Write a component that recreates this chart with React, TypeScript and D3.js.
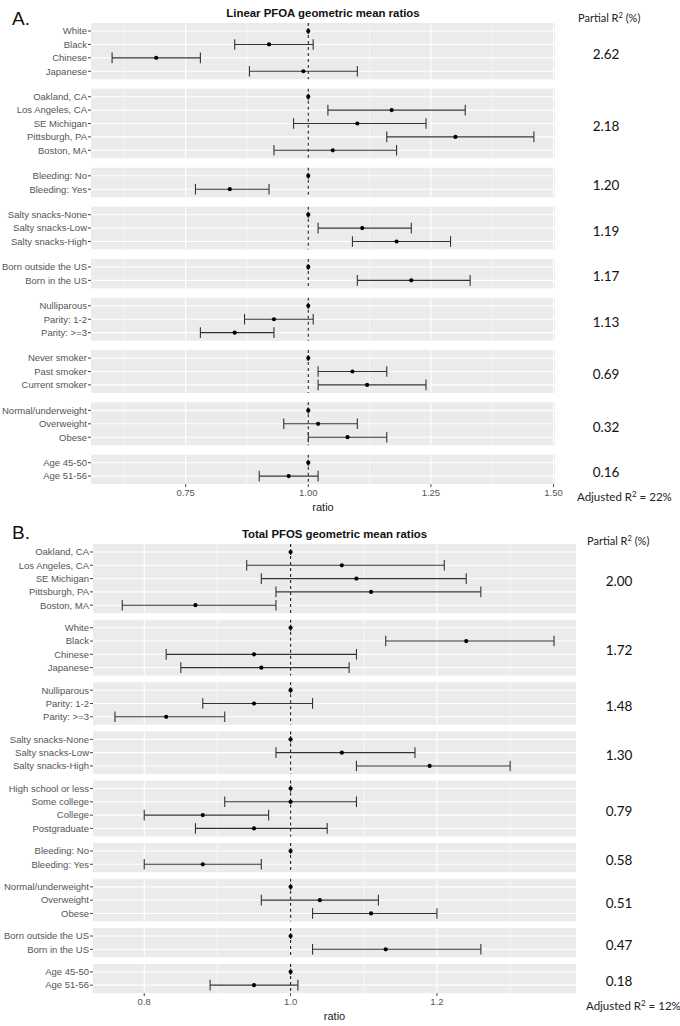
import React from "react";
import * as d3 from "d3";

// ---------- Panel A: Linear PFOA ----------
const pfoaLabels: string[][] = [
  ["White", "Black", "Chinese", "Japanese"],
  ["Oakland, CA", "Los Angeles, CA", "SE Michigan", "Pittsburgh, PA", "Boston, MA"],
  ["Bleeding: No", "Bleeding: Yes"],
  ["Salty snacks-None", "Salty snacks-Low", "Salty snacks-High"],
  ["Born outside the US", "Born in the US"],
  ["Nulliparous", "Parity: 1-2", "Parity: >=3"],
  ["Never smoker", "Past smoker", "Current smoker"],
  ["Normal/underweight", "Overweight", "Obese"],
  ["Age 45-50", "Age 51-56"],
];
const pfoaEst: number[][] = [
  [1, 0.92, 0.69, 0.99],
  [1, 1.17, 1.10, 1.30, 1.05],
  [1, 0.84],
  [1, 1.11, 1.18],
  [1, 1.21],
  [1, 0.93, 0.85],
  [1, 1.09, 1.12],
  [1, 1.02, 1.08],
  [1, 0.96],
];
const pfoaLow: number[][] = [
  [1, 0.85, 0.60, 0.88],
  [1, 1.04, 0.97, 1.16, 0.93],
  [1, 0.77],
  [1, 1.02, 1.09],
  [1, 1.10],
  [1, 0.87, 0.78],
  [1, 1.02, 1.02],
  [1, 0.95, 1.00],
  [1, 0.90],
];
const pfoaHigh: number[][] = [
  [1, 1.01, 0.78, 1.10],
  [1, 1.32, 1.24, 1.46, 1.18],
  [1, 0.92],
  [1, 1.21, 1.29],
  [1, 1.33],
  [1, 1.01, 0.93],
  [1, 1.16, 1.24],
  [1, 1.10, 1.16],
  [1, 1.02],
];
const pfoaR2: string[] = ["2.62", "2.18", "1.20", "1.19", "1.17", "1.13", "0.69", "0.32", "0.16"];
const pfoaTicks: number[] = [0.75, 1.0, 1.25, 1.5];
const pfoaAdj = "22%";

// ---------- Panel B: Total PFOS ----------
const pfosLabels: string[][] = [
  ["Oakland, CA", "Los Angeles, CA", "SE Michigan", "Pittsburgh, PA", "Boston, MA"],
  ["White", "Black", "Chinese", "Japanese"],
  ["Nulliparous", "Parity: 1-2", "Parity: >=3"],
  ["Salty snacks-None", "Salty snacks-Low", "Salty snacks-High"],
  ["High school or less", "Some college", "College", "Postgraduate"],
  ["Bleeding: No", "Bleeding: Yes"],
  ["Normal/underweight", "Overweight", "Obese"],
  ["Born outside the US", "Born in the US"],
  ["Age 45-50", "Age 51-56"],
];
const pfosEst: number[][] = [
  [1, 1.07, 1.09, 1.11, 0.87],
  [1, 1.24, 0.95, 0.96],
  [1, 0.95, 0.83],
  [1, 1.07, 1.19],
  [1, 1.00, 0.88, 0.95],
  [1, 0.88],
  [1, 1.04, 1.11],
  [1, 1.13],
  [1, 0.95],
];
const pfosLow: number[][] = [
  [1, 0.94, 0.96, 0.98, 0.77],
  [1, 1.13, 0.83, 0.85],
  [1, 0.88, 0.76],
  [1, 0.98, 1.09],
  [1, 0.91, 0.80, 0.87],
  [1, 0.80],
  [1, 0.96, 1.03],
  [1, 1.03],
  [1, 0.89],
];
const pfosHigh: number[][] = [
  [1, 1.21, 1.24, 1.26, 0.98],
  [1, 1.36, 1.09, 1.08],
  [1, 1.03, 0.91],
  [1, 1.17, 1.30],
  [1, 1.09, 0.97, 1.05],
  [1, 0.96],
  [1, 1.12, 1.20],
  [1, 1.26],
  [1, 1.01],
];
const pfosR2: string[] = ["2.00", "1.72", "1.48", "1.30", "0.79", "0.58", "0.51", "0.47", "0.18"];
const pfosTicks: number[] = [0.8, 1.0, 1.2];
const pfosAdj = "12%";

const AX = "'Liberation Sans', Arial, sans-serif";
const CAL = "Lato, 'Open Sans', sans-serif";

type PanelProps = {
  letter: string;
  title: string;
  labels: string[][];
  est: number[][];
  low: number[][];
  high: number[][];
  r2: string[];
  ticks: number[];
  fmt: string;
  adj: string;
  x0: number;
  x1: number;
  top: number;
  unit: number;
  gap: number;
  letterY: number;
  titleY: number;
  headY: number;
  r2X: number;
  headX: number;
};

function Panel(p: PanelProps) {
  const all = [...p.low.flat(), ...p.high.flat()];
  const [mn, mx] = d3.extent(all) as [number, number];
  const pad = (mx - mn) * 0.05;
  const x = d3.scaleLinear().domain([mn - pad, mx + pad]).range([p.x0, p.x1]);
  const step = p.ticks[1] - p.ticks[0];
  const minor: number[] = [];
  for (let t = p.ticks[0] - step / 2; t <= mx + pad; t += step) {
    if (t >= mn - pad) minor.push(t);
  }
  const fmt = d3.format(p.fmt);

  let y = p.top;
  const facets = p.labels.map((labs, gi) => {
    const h = (labs.length - 1 + 1.2) * p.unit;
    const f = { top: y, h, gi, labs };
    y += h + p.gap;
    return f;
  });
  const bottom = facets[facets.length - 1].top + facets[facets.length - 1].h;
  const cx = (p.x0 + p.x1) / 2;

  return (
    <g>
      <text x={12} y={p.letterY} fontFamily={AX} fontSize={19} fill="#111">{p.letter}</text>
      <text x={cx} y={p.titleY} textAnchor="middle" fontFamily={AX} fontSize={11.4} fontWeight="bold" fill="#111">{p.title}</text>
      <text x={p.headX} y={p.headY} fontFamily={CAL} fontSize={11} fill="#222">
        Partial R<tspan dy={-4} fontSize={7.5}>2</tspan><tspan dy={4}> (%)</tspan>
      </text>
      {facets.map((f) => {
        const rowY = (i: number) => f.top + (0.6 + i) * p.unit;
        return (
          <g key={f.gi}>
            <rect x={p.x0} y={f.top} width={p.x1 - p.x0} height={f.h} fill="#ebebeb" />
            {minor.map((t) => (
              <line key={"m" + t} x1={x(t)} x2={x(t)} y1={f.top} y2={f.top + f.h} stroke="#fff" strokeWidth={0.6} />
            ))}
            {p.ticks.map((t) => (
              <line key={"M" + t} x1={x(t)} x2={x(t)} y1={f.top} y2={f.top + f.h} stroke="#fff" strokeWidth={1.1} />
            ))}
            {f.labs.map((lab, i) => (
              <g key={lab}>
                <line x1={p.x0} x2={p.x1} y1={rowY(i)} y2={rowY(i)} stroke="#fff" strokeWidth={1.1} />
                <line x1={p.x0 - 3} x2={p.x0} y1={rowY(i)} y2={rowY(i)} stroke="#444" strokeWidth={1} />
                <text x={p.x0 - 4} y={rowY(i)} dy="0.35em" textAnchor="end" fontFamily={AX} fontSize={9.5} fill="#555">{lab}</text>
              </g>
            ))}
            <line x1={x(1)} x2={x(1)} y1={f.top} y2={f.top + f.h} stroke="#222" strokeWidth={1.1} strokeDasharray="3,3" />
            {f.labs.map((lab, i) => {
              const lo = p.low[f.gi][i];
              const hi = p.high[f.gi][i];
              const e = p.est[f.gi][i];
              const yy = rowY(i);
              const cap = lo === hi ? 3 : 5.3;
              return (
                <g key={"e" + lab}>
                  <line x1={x(lo)} x2={x(hi)} y1={yy} y2={yy} stroke="#333" strokeWidth={1.1} />
                  <line x1={x(lo)} x2={x(lo)} y1={yy - cap} y2={yy + cap} stroke="#333" strokeWidth={1.1} />
                  <line x1={x(hi)} x2={x(hi)} y1={yy - cap} y2={yy + cap} stroke="#333" strokeWidth={1.1} />
                  <circle cx={x(e)} cy={yy} r={2.1} fill="#000" />
                </g>
              );
            })}
            <text x={p.r2X} y={f.top + f.h / 2 + 3} dy="0.35em" textAnchor="middle" fontFamily={CAL} fontSize={13.5} fill="#111">{p.r2[f.gi]}</text>
          </g>
        );
      })}
      {p.ticks.map((t) => (
        <g key={"t" + t}>
          <line x1={x(t)} x2={x(t)} y1={bottom} y2={bottom + 3} stroke="#444" strokeWidth={1} />
          <text x={x(t)} y={bottom + 12} textAnchor="middle" fontFamily={AX} fontSize={9.5} fill="#555">{fmt(t)}</text>
        </g>
      ))}
      <text x={cx} y={bottom + 27} textAnchor="middle" fontFamily={AX} fontSize={11} fill="#222">ratio</text>
      <text x={p.headX - 1} y={bottom + 17} fontFamily={CAL} fontSize={11.5} fill="#222">
        Adjusted R<tspan dy={-4} fontSize={8}>2</tspan><tspan dy={4}> = {p.adj}</tspan>
      </text>
    </g>
  );
}

export default function App() {
  return (
    <svg width={680} height={1026} style={{ position: "absolute", left: 0, top: 0, background: "#fff" }}>
      <rect x={0} y={0} width={680} height={1026} fill="#fff" />
      <Panel
        letter="A."
        title="Linear PFOA geometric mean ratios"
        labels={pfoaLabels}
        est={pfoaEst}
        low={pfoaLow}
        high={pfoaHigh}
        r2={pfoaR2}
        ticks={pfoaTicks}
        fmt=".2f"
        adj={pfoaAdj}
        x0={91}
        x1={555}
        top={23}
        unit={13.4}
        gap={9.4}
        letterY={25}
        titleY={17}
        headY={22}
        r2X={606}
        headX={578}
      />
      <Panel
        letter="B."
        title="Total PFOS geometric mean ratios"
        labels={pfosLabels}
        est={pfosEst}
        low={pfosLow}
        high={pfosHigh}
        r2={pfosR2}
        ticks={pfosTicks}
        fmt=".1f"
        adj={pfosAdj}
        x0={93}
        x1={576}
        top={544}
        unit={13.3}
        gap={6.6}
        letterY={539}
        titleY={538}
        headY={545}
        r2X={619}
        headX={587}
      />
    </svg>
  );
}
